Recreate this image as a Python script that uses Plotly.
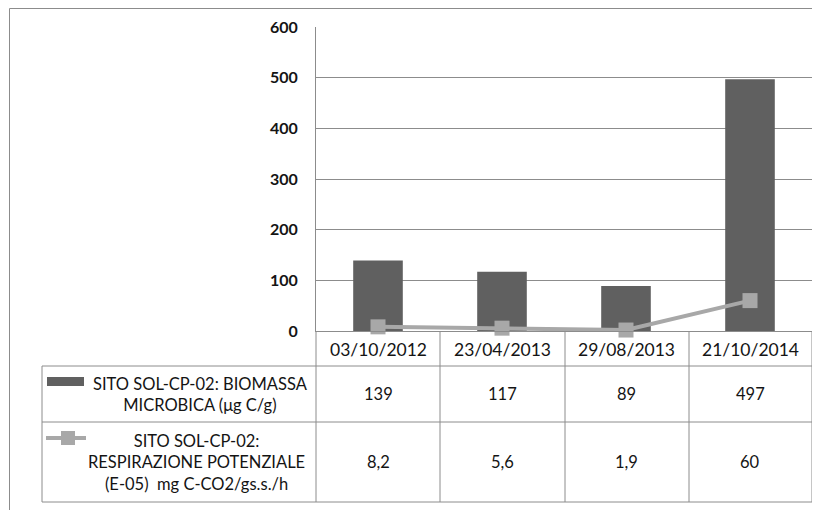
import plotly.graph_objects as go

dates = ["03/10/2012", "23/04/2013", "29/08/2013", "21/10/2014"]
biomassa = [139, 117, 89, 497]
respirazione = [8.2, 5.6, 1.9, 60]
name_bio = "SITO SOL-CP-02: BIOMASSA<br>MICROBICA (μg C/g)"
name_resp = "SITO SOL-CP-02:<br>RESPIRAZIONE POTENZIALE<br>(E-05)  mg C-CO2/gs.s./h"
y_ticks = [0, 100, 200, 300, 400, 500, 600]

OFF = 8  # page body margin
W, H = 820 - OFF, 510 - OFF
def px(x):
    return (x - OFF) / W
def py(y):
    return 1 - (y - OFF) / H

BAR = "#606060"
LINE = "#a8a8a8"
GRID = "#8c8c8c"
TXT = "#141414"
FONT = "Lato"

fig = go.Figure()
fig.add_trace(go.Bar(x=dates, y=biomassa, marker=dict(color=BAR, line=dict(width=0)),
                     width=0.4, name=name_bio, showlegend=False))
fig.add_trace(go.Scatter(x=dates, y=respirazione, mode="lines+markers",
                         line=dict(color=LINE, width=4),
                         marker=dict(symbol="square", size=15, color=LINE),
                         cliponaxis=False, name=name_resp, showlegend=False))

shapes = []
def line(x0, y0, x1, y1, color=GRID, width=1):
    shapes.append(dict(type="line", xref="paper", yref="paper",
                       x0=px(x0), y0=py(y0), x1=px(x1), y1=py(y1),
                       line=dict(color=color, width=width), layer="above"))

# outer border
shapes.append(dict(type="rect", xref="paper", yref="paper",
                   x0=px(9.5), y0=py(515), x1=px(825), y1=py(8.5),
                   line=dict(color=GRID, width=1), layer="below"))

# table grid
for yy in [366, 422, 502]:
    line(42, yy, 812, yy)
line(42, 366, 42, 502)
for xx in [316, 440, 565, 689, 812]:
    line(xx, 331, xx, 502)

# legend keys
shapes.append(dict(type="rect", xref="paper", yref="paper",
                   x0=px(47), y0=py(386), x1=px(84), y1=py(377),
                   fillcolor=BAR, line=dict(width=0)))
line(46, 438, 86, 438, color=LINE, width=4)
shapes.append(dict(type="rect", xref="paper", yref="paper",
                   x0=px(61), y0=py(445), x1=px(75), y1=py(431),
                   fillcolor=LINE, line=dict(width=0)))

annotations = []
def fmt(v):
    return f"{v:g}".replace(".", ",")

def ann(x, y, text, xref="paper", size=16):
    annotations.append(dict(x=x, xref=xref, y=y, yref="paper", text=text,
                            xanchor="center", yanchor="middle", align="center",
                            showarrow=False, font=dict(family=FONT, size=size, color=TXT)))

for d, b, r in zip(dates, biomassa, respirazione):
    ann(d, py(349), d, xref="x", size=17.5)
    ann(d, py(394), fmt(b), xref="x", size=16.5)
    ann(d, py(462), fmt(r), xref="x", size=16.5)

ann(px(200), py(394), name_bio, size=16.5)
ann(px(196), py(462), name_resp, size=16.5)

fig.update_layout(
    template="none",
    width=W, height=H, margin=dict(l=0, r=0, t=0, b=0, pad=0, autoexpand=False),
    paper_bgcolor="white", plot_bgcolor="white",
    shapes=shapes, annotations=annotations,
    xaxis=dict(domain=[px(316), px(812)], range=[-0.5, 3.5], type="category",
               automargin=False,
               showticklabels=False, showgrid=False, zeroline=False,
               showline=True, linecolor=GRID, linewidth=1, ticks=""),
    yaxis=dict(domain=[py(331), py(27)], range=[0, 600], tickvals=y_ticks,
               automargin=False,
               showgrid=True, gridcolor=GRID, gridwidth=1, zeroline=False,
               showline=True, linecolor=GRID, linewidth=1, ticks="",
               ticklabelstandoff=14,
               tickfont=dict(family=FONT, size=16, color=TXT, weight="bold")),
)

fig.write_html("out.html")
